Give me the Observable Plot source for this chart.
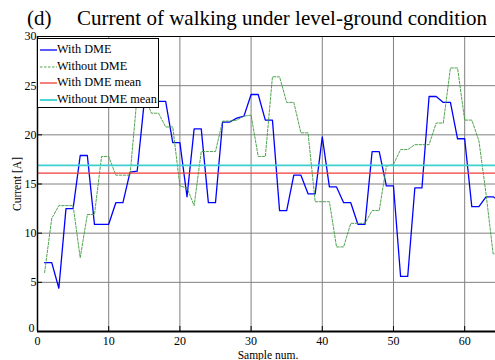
<!DOCTYPE html>
<html>
<head>
<meta charset="utf-8">
<script src="https://cdn.jsdelivr.net/npm/d3@7"></script>
<script src="https://cdn.jsdelivr.net/npm/@observablehq/plot@0.6"></script>
<style>
  html, body { margin: 0; padding: 0; background: #fff; }
  #wrap { position: relative; width: 495px; height: 360px; overflow: hidden; font-family: "Liberation Serif", "Times New Roman", Times, "DejaVu Serif", serif; color: #000; }
  #title { position: relative; height: 30px; font-size: 21px; line-height: 21px; }
  #title span { position: absolute; top: 8px; white-space: pre; }
  #legend { position: absolute; left: 37px; top: 38px; width: 120px; height: 68px; border: 1.5px solid #000; background: #fff; font-size: 12.3px; }
  .item { position: absolute; left: 0; height: 14px; line-height: 14px; white-space: nowrap; }
  .item svg { position: absolute; left: 2px; top: 0; }
  .item span { position: absolute; left: 19px; top: 0; }
</style>
</head>
<body>
<div id="wrap">
  <div id="title"><span style="left:27px">(d)</span><span id="titleText" style="left:77px"></span></div>
  <div id="chart"></div>
  <div id="legend"></div>
</div>
<script>
// Series (sample number = position in the array, starting at 1)
const withDME = [7.0, 7.0, 4.4, 12.5, 12.5, 17.9, 17.9, 10.9, 10.9, 10.9,
  13.1, 13.1, 16.2, 16.3, 23.4, 23.4, 23.4, 23.4, 19.2, 19.2,
  13.7, 20.6, 20.6, 13.1, 13.1, 21.3, 21.3, 21.7, 21.9, 24.1,
  24.1, 21.5, 21.5, 12.3, 12.3, 15.9, 15.9, 14.0, 14.0, 19.8,
  14.7, 14.7, 13.1, 13.1, 10.9, 10.9, 18.3, 18.3, 14.8, 14.8,
  5.6, 5.6, 14.6, 14.6, 23.9, 23.9, 23.3, 23.3, 19.6, 19.6,
  12.7, 12.7, 13.7, 13.7, 13.2];
const withoutDME = [6.0, 11.5, 12.8, 12.8, 12.8, 7.5, 11.9, 11.9, 17.8, 17.8,
  15.9, 15.9, 15.9, 24.0, 24.0, 22.2, 22.2, 20.8, 20.8, 14.8,
  14.6, 12.8, 18.3, 18.3, 18.3, 21.4, 21.4, 21.5, 21.9, 22.0,
  17.8, 17.8, 25.9, 25.9, 23.3, 23.3, 20.2, 20.2, 13.2, 13.2,
  13.2, 8.6, 8.6, 11.0, 11.0, 11.0, 12.3, 12.3, 16.8, 17.0,
  18.5, 18.5, 19.0, 19.0, 19.0, 21.2, 21.2, 26.8, 26.8, 21.5,
  21.5, 19.4, 14.0, 7.9, 7.9];
const withDMEMean = [16.1];
const withoutDMEMean = [16.9];

const xTicks = [0, 10, 20, 30, 40, 50, 60];
const yTicks = [0, 5, 10, 15, 20, 25, 30];
const seriesNames = ["With DME", "Without DME", "With DME mean", "Without DME mean"];
const seriesColors = ["#0000ff", "#3c9a3c", "#f03c3c", "#3ccfcf"];
const titleText = "Current of walking under level-ground condition";
const xLabel = "Sample num.";
const yLabel = "Current [A]";

document.getElementById("titleText").textContent = titleText;

const serif = "'Liberation Serif', 'Times New Roman', Times, 'DejaVu Serif', serif";
const rows = (arr) => arr.map((v, i) => ({sample: i + 1, value: v}));

const chart = Plot.plot({
  width: 495,
  height: 330,
  marginTop: 6,
  marginBottom: 29,
  marginLeft: 37,
  marginRight: 0,
  style: {fontFamily: serif, fontSize: "12px", color: "#000", background: "#fff", overflow: "visible"},
  x: {domain: [0, 64.33]},
  y: {domain: [0, 30]},
  marks: [
    Plot.gridX(xTicks.slice(1), {stroke: "#808080", strokeOpacity: 1, strokeWidth: 1}),
    Plot.gridY(yTicks.slice(1, -1), {stroke: "#808080", strokeOpacity: 1, strokeWidth: 1}),
    Plot.line(rows(withDME), {x: "sample", y: "value", stroke: seriesColors[0], strokeWidth: 1.3, clip: true}),
    Plot.line(rows(withoutDME), {x: "sample", y: "value", stroke: seriesColors[1], strokeWidth: 0.9, strokeDasharray: "2.5,1.5", clip: true}),
    Plot.ruleY(withDMEMean, {stroke: seriesColors[2], strokeWidth: 1.3}),
    Plot.ruleY(withoutDMEMean, {stroke: seriesColors[3], strokeWidth: 1.8}),
    Plot.ruleY([30], {stroke: "#000", strokeWidth: 1}),
    Plot.ruleX([0], {stroke: "#000", strokeWidth: 1.5}),
    Plot.ruleY([0], {stroke: "#000", strokeWidth: 2}),
    Plot.axisX(xTicks, {tickSize: 0, tickPadding: 5, label: null, fontSize: 12, fontFamily: serif}),
    Plot.axisX(xTicks, {tickSize: -5, tickFormat: () => "", label: null}),
    Plot.axisY(yTicks.slice(1), {tickSize: 0, tickPadding: 1, label: null, fontSize: 12, fontFamily: serif}),
    Plot.axisY(yTicks.slice(0, 1), {tickSize: 0, tickPadding: 3, dy: -3, label: null, fontSize: 12, fontFamily: serif}),
    Plot.axisY(yTicks, {tickSize: -5, tickFormat: () => "", label: null}),
    Plot.text([xLabel], {frameAnchor: "bottom", lineAnchor: "middle", dy: 23.5, dx: 1.5, fontSize: 11.5, fontFamily: serif}),
    Plot.text([yLabel], {frameAnchor: "left", lineAnchor: "middle", textAnchor: "middle", dx: -20, rotate: -90, fontSize: 11.5, fontFamily: serif})
  ]
});
document.getElementById("chart").appendChild(chart);

// Legend
const legend = document.getElementById("legend");
const tops = [3, 19.5, 36, 52.5];
seriesNames.forEach((name, i) => {
  const item = document.createElement("div");
  item.className = "item";
  item.style.top = tops[i] + "px";
  const dash = i === 1 ? ' stroke-dasharray="2.5,1.5"' : "";
  const w = [1.3, 0.9, 1.3, 1.8][i];
  item.innerHTML = `<svg width="17" height="14"><line x1="0" x2="17" y1="8" y2="8" stroke="${seriesColors[i]}" stroke-width="${w}"${dash}/></svg><span>${name}</span>`;
  legend.appendChild(item);
});
</script>
</body>
</html>
